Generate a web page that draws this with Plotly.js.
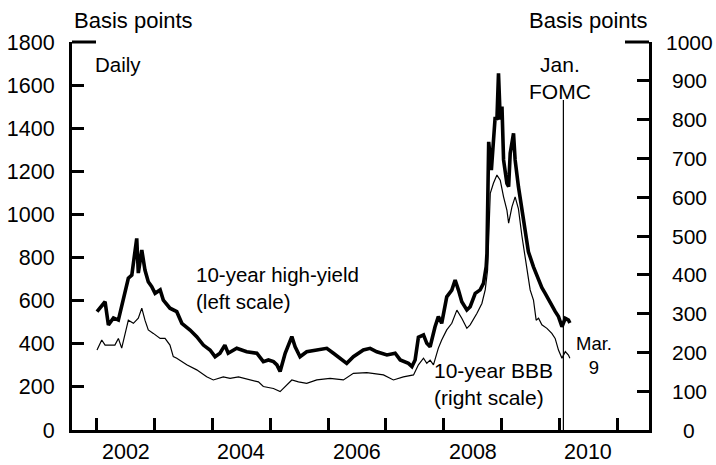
<!DOCTYPE html>
<html>
<head>
<meta charset="utf-8">
<script src="https://cdn.plot.ly/plotly-3.0.1.min.js"></script>
<style>html,body{margin:0;padding:0;background:#fff;}#chart{width:716px;height:465px;}</style>
</head>
<body>
<div id="chart"></div>
<script>
// 10-year high-yield spread (left scale, basis points)
var hyDates = ["2002-01-02","2002-02-22","2002-03-15","2002-04-16","2002-05-17","2002-06-28","2002-07-19","2002-08-10","2002-09-10","2002-09-20","2002-10-12","2002-11-01","2002-11-22","2002-12-14","2003-01-04","2003-02-05","2003-02-25","2003-04-08","2003-05-21","2003-06-22","2003-08-13","2003-09-24","2003-11-05","2003-12-17","2004-01-18","2004-02-18","2004-03-20","2004-04-10","2004-06-03","2004-08-05","2004-10-08","2004-11-18","2004-12-20","2005-01-21","2005-02-12","2005-03-04","2005-04-05","2005-05-17","2005-06-07","2005-07-08","2005-08-19","2005-10-22","2005-12-24","2006-02-04","2006-03-18","2006-04-29","2006-06-10","2006-08-12","2006-09-24","2006-11-05","2007-01-08","2007-03-01","2007-04-02","2007-05-24","2007-06-15","2007-07-05","2007-07-26","2007-08-27","2007-09-17","2007-10-08","2007-11-08","2007-11-29","2007-12-20","2008-01-21","2008-02-22","2008-03-14","2008-04-04","2008-04-25","2008-05-27","2008-06-17","2008-07-19","2008-08-19","2008-09-09","2008-09-26","2008-10-01","2008-10-12","2008-10-29","2008-11-22","2008-12-03","2008-12-13","2008-12-24","2009-01-04","2009-01-14","2009-02-04","2009-02-15","2009-02-25","2009-03-18","2009-03-28","2009-04-18","2009-05-10","2009-05-31","2009-06-20","2009-07-22","2009-08-23","2009-09-13","2009-10-04","2009-10-25","2009-11-15","2009-12-06","2009-12-27","2010-01-18","2010-02-08","2010-02-28","2010-03-09"];
var hyValues = [549,595,487,520,510,650,704,719,889,728,835,742,688,665,634,650,603,565,549,495,464,433,394,371,340,356,394,356,379,363,356,317,325,317,302,271,356,433,386,340,363,371,379,356,333,309,340,371,379,363,348,356,325,309,294,325,430,441,402,386,479,526,495,618,649,696,649,595,557,572,634,650,680,757,820,1337,1206,1453,1438,1655,1440,1500,1253,1144,1129,1284,1376,1253,1129,1021,913,827,757,696,660,634,603,572,550,526,479,518,510,496];

// 10-year BBB spread (right scale, basis points)
var bbbDates = ["2002-01-02","2002-02-01","2002-02-22","2002-04-25","2002-05-17","2002-06-07","2002-07-19","2002-08-20","2002-09-20","2002-10-12","2002-11-01","2002-11-22","2002-12-24","2003-02-05","2003-03-08","2003-04-08","2003-04-29","2003-05-21","2003-07-23","2003-09-24","2003-11-26","2004-01-07","2004-03-10","2004-04-22","2004-06-14","2004-08-26","2004-10-18","2004-11-18","2005-01-21","2005-03-04","2005-04-16","2005-05-17","2005-06-28","2005-08-19","2005-10-22","2006-01-14","2006-04-08","2006-06-10","2006-09-03","2006-12-17","2007-02-18","2007-04-22","2007-06-25","2007-07-26","2007-08-27","2007-09-17","2007-10-08","2007-10-29","2007-11-29","2007-12-20","2008-01-21","2008-02-22","2008-03-25","2008-04-25","2008-05-27","2008-06-17","2008-07-30","2008-08-30","2008-09-20","2008-10-05","2008-10-22","2008-11-11","2008-12-03","2008-12-24","2009-01-14","2009-02-04","2009-02-15","2009-03-08","2009-03-28","2009-04-18","2009-05-10","2009-06-10","2009-07-01","2009-07-22","2009-08-08","2009-08-23","2009-09-13","2009-10-15","2009-11-15","2009-12-06","2009-12-27","2010-01-18","2010-02-08","2010-02-28","2010-03-09"];
var bbbValues = [206,232,219,219,236,211,283,275,288,314,283,258,249,236,236,219,189,185,168,155,137,129,137,133,137,129,124,112,107,99,116,129,124,120,129,133,129,146,148,142,129,137,142,168,185,172,180,168,211,232,258,275,309,288,262,271,301,326,361,412,610,636,657,644,601,567,533,575,601,570,500,421,361,335,283,288,271,262,249,236,206,185,202,193,185];

// axis labels
var yearTicks = ["2002-01-01","2003-01-01","2004-01-01","2005-01-01","2006-01-01","2007-01-01","2008-01-01","2009-01-01","2010-01-01","2011-01-01"];
var yearLabelPos = ["2002-07-02","2004-07-02","2006-07-02","2008-07-02","2010-07-02"];
var yearLabels = ["2002","2004","2006","2008","2010"];
var rightTicks = [0,100,200,300,400,500,600,700,800,900,1000];
var fomcDate = "2010-01-27";

var FONT = "Liberation Sans, Arial, sans-serif";
var L = 72, R = 649, T = 42, B = 430;
function px(x){ return (x - L) / (R - L); }
function py(y){ return (B - y) / (B - T); }

var traces = [
  {x: bbbDates, y: bbbValues, yaxis: "y2", type: "scatter", mode: "lines",
   line: {color: "#000", width: 1.2}, hoverinfo: "skip"},
  {x: hyDates, y: hyValues, yaxis: "y", type: "scatter", mode: "lines",
   line: {color: "#000", width: 3.6}, hoverinfo: "skip"}
];

var annFont = {family: FONT, size: 20.5, color: "#000"};
var titleFont = {family: FONT, size: 22, color: "#000"};
var annotations = [
  {text: "Basis points", xref: "paper", yref: "paper", x: px(72), y: py(21), xanchor: "left", yanchor: "middle", showarrow: false, font: titleFont},
  {text: "Basis points", xref: "paper", yref: "paper", x: px(650), y: py(21), xanchor: "right", yanchor: "middle", showarrow: false, font: titleFont},
  {text: "Daily", xref: "paper", yref: "paper", x: px(93), y: py(64), xanchor: "left", yanchor: "middle", showarrow: false, font: annFont},
  {text: "10-year high-yield<br>(left scale)", xref: "paper", yref: "paper", x: px(194), y: py(288), xanchor: "left", yanchor: "middle", align: "left", showarrow: false, font: annFont},
  {text: "10-year BBB<br>(right scale)", xref: "paper", yref: "paper", x: px(432), y: py(384), xanchor: "left", yanchor: "middle", align: "left", showarrow: false, font: {family: FONT, size: 21, color: "#000"}},
  {text: "Jan.<br>FOMC", xref: "paper", yref: "paper", x: px(560), y: py(78), xanchor: "center", yanchor: "middle", align: "center", showarrow: false, font: {family: FONT, size: 21, color: "#000"}},
  {text: "Mar.<br>9", xref: "paper", yref: "paper", x: px(594), y: py(355), xanchor: "center", yanchor: "middle", align: "center", showarrow: false, font: {family: FONT, size: 18.5, color: "#000"}}
];
for (var i = 0; i < yearLabels.length; i++) {
  annotations.push({text: yearLabels[i], xref: "x", yref: "paper", x: yearLabelPos[i], y: py(452), xanchor: "center", yanchor: "middle", showarrow: false, font: {family: FONT, size: 21.5, color: "#000"}});
}
// right-scale labels are centred in the reference
for (var j = 0; j < rightTicks.length; j++) {
  annotations.push({text: String(rightTicks[j]), xref: "paper", yref: "y2", x: px(689), y: rightTicks[j], xanchor: "center", yanchor: "middle", showarrow: false, font: {family: FONT, size: 21, color: "#000"}});
}

var shapes = [
  {type: "line", xref: "x", yref: "paper", x0: fomcDate, x1: fomcDate, y0: 0, y1: py(100), line: {color: "#000", width: 1.2}},
  {type: "line", xref: "paper", yref: "paper", x0: 0, x1: px(96), y0: 1, y1: 1, line: {color: "#000", width: 3}},
  {type: "line", xref: "paper", yref: "paper", x0: px(625), x1: 1, y0: 1, y1: 1, line: {color: "#000", width: 3}}
];

var layout = {
  width: 716, height: 465,
  margin: {l: L, r: 716 - R, t: T, b: 465 - B, pad: 0},
  paper_bgcolor: "#fff", plot_bgcolor: "#fff",
  showlegend: false,
  font: {family: FONT, color: "#000"},
  xaxis: {
    type: "date", range: ["2001-07-28", "2011-07-22"],
    tickvals: yearTicks, ticks: "inside", ticklen: 12, tickwidth: 3, tickcolor: "#000",
    showticklabels: false, showline: true, linewidth: 3, linecolor: "#000",
    showgrid: false, zeroline: false, fixedrange: true
  },
  yaxis: {
    range: [0, 1800], dtick: 200, tick0: 0, ticks: "inside", ticklen: 12, tickwidth: 3, tickcolor: "#000",
    showline: true, linewidth: 3, linecolor: "#000", showgrid: false, zeroline: false,
    tickfont: {family: FONT, size: 21.5, color: "#000"}, ticklabelstandoff: 10, fixedrange: true
  },
  yaxis2: {
    range: [0, 1000], tickvals: rightTicks, overlaying: "y", side: "right",
    ticks: "inside", ticklen: 12, tickwidth: 3, tickcolor: "#000", showticklabels: false,
    showline: true, linewidth: 3, linecolor: "#000", showgrid: false, zeroline: false,
    fixedrange: true
  },
  annotations: annotations,
  shapes: shapes
};

Plotly.newPlot("chart", traces, layout, {staticPlot: true, displayModeBar: false});
</script>
</body>
</html>
